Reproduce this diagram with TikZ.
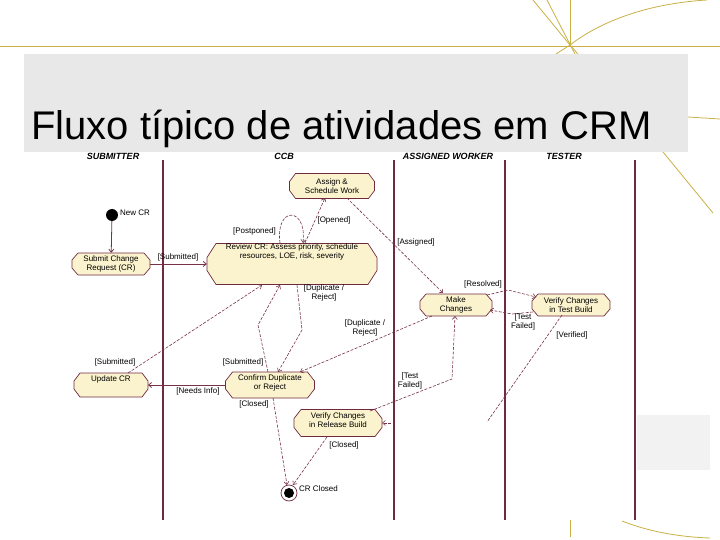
\documentclass[tikz,border=0pt]{standalone}
\usepackage{fontspec}
\setmainfont{Liberation Sans}
\usetikzlibrary{arrows.meta,calc}
\definecolor{gold}{RGB}{200,176,70}
\definecolor{lanec}{RGB}{112,42,64}
\definecolor{edgec}{RGB}{120,50,70}
\definecolor{actfill}{RGB}{251,243,205}
\definecolor{titlebg}{RGB}{232,232,232}
\definecolor{ghost}{RGB}{242,242,242}
% octagonal activity outline: cx, cy, width, height, chamfer x, chamfer y
\newcommand\octbox[6]{%
 \filldraw[octst] ({#1-#3/2+#5},{#2-#4/2}) -- ({#1+#3/2-#5},{#2-#4/2}) -- ({#1+#3/2},{#2-#4/2+#6})
  -- ({#1+#3/2},{#2+#4/2-#6}) -- ({#1+#3/2-#5},{#2+#4/2}) -- ({#1-#3/2+#5},{#2+#4/2})
  -- ({#1-#3/2},{#2+#4/2-#6}) -- ({#1-#3/2},{#2-#4/2+#6}) -- cycle;}
\begin{document}
\begin{tikzpicture}[x=1pt,y=-1pt,
 goldline/.style={draw=gold,line width=0.8pt},
 laneline/.style={draw=lanec,line width=2pt},
 octst/.style={draw=lanec, line width=0.7pt, fill=actfill},
 act/.style={rectangle, draw=none, font=\fontsize{8}{9}\selectfont, align=center, inner sep=0pt},
 lbl/.style={font=\fontsize{8}{9}\selectfont, align=center, inner sep=0pt},
 hdr/.style={font=\fontsize{9}{10}\selectfont\bfseries\itshape, inner sep=0pt},
 flow/.style={draw=edgec, line width=0.6pt, dash pattern=on 3pt off 1.5pt, -{Straight Barb[length=3pt,width=5pt]}},
 sflow/.style={draw=edgec, line width=0.8pt, -{Straight Barb[length=3pt,width=5pt]}},
]
\useasboundingbox (0,0) rectangle (720,540);
% decorative template lines
\draw[goldline] (0,46) -- (720,46);
\draw[goldline] (570,0) -- (570,46);
\draw[goldline] (570,45) .. controls (605,18) and (655,3) .. (707,0);
\draw[goldline] (533,0) -- (570,45) -- (663,152) -- (713,213);
\draw[goldline] (547,0) -- (575,54);
\draw[goldline] (570,45) -- (556,54);
\draw[goldline] (688,117) -- (720,119);
\draw[goldline] (570,520) -- (570,537);
\draw[goldline] (622,521) .. controls (650,532) and (680,537) .. (710,538);
% title box
\fill[titlebg] (24,54) rectangle (688,152);
\node[anchor=base west, font=\fontsize{40}{48}\selectfont, inner sep=0pt] (title) at (31,140) {Fluxo típico de atividades em CRM};
\fill[ghost] (637,415) rectangle (710,470);
% lane headers
\node[hdr] (hsub) at (113,156) {SUBMITTER};
\node[hdr] (hccb) at (284,156) {CCB};
\node[hdr] (hwork) at (448,156) {ASSIGNED WORKER};
\node[hdr] (htest) at (564,156) {TESTER};
% lanes
\draw[laneline] (163,160) -- (163,520);
\draw[laneline] (394,160) -- (394,520);
\draw[laneline] (505,160) -- (505,520);
\draw[laneline] (635,160) -- (635,520);
% activity outlines
\octbox{111}{264}{78}{22}{6}{7}
\octbox{292}{264}{170}{41}{9}{14}
\octbox{332}{186}{85}{25}{6}{8}
\octbox{456}{305}{72}{22}{6}{7}
\octbox{571}{305}{78}{22}{6}{7}
\octbox{111}{385}{74}{24}{6}{8}
\octbox{270}{385}{89}{26}{7}{9}
\octbox{338}{423}{88}{27}{7}{9}
% nodes
\node[circle, fill=black, minimum size=12pt, inner sep=0pt] (start) at (112,215) {};
\node[lbl, anchor=west] (lnew) at (120,213) {New CR};
\node[act, minimum width=78pt, minimum height=22pt] (submit) at (111,264) {Submit Change\\Request (CR)};
\node[act, minimum width=170pt, minimum height=41pt] (review) at (292,264) {};
\node[lbl, anchor=north] (reviewtxt) at (292,244) {Review CR: Assess priority, schedule\\resources, LOE, risk, severity};
\node[act, minimum width=85pt, minimum height=25pt] (assign) at (332,186) {Assign \&\\Schedule Work};
\node[act, minimum width=72pt, minimum height=22pt] (make) at (456,305) {Make\\Changes};
\node[act, minimum width=78pt, minimum height=22pt] (vtest) at (571,305) {Verify Changes\\in Test Build};
\node[act, minimum width=74pt, minimum height=24pt] (update) at (111,385) {};
\node[lbl] (updatetxt) at (111,379) {Update CR};
\node[act, minimum width=89pt, minimum height=26pt] (confirm) at (270,383) {Confirm Duplicate\\or Reject};
\node[act, minimum width=88pt, minimum height=27pt] (vrel) at (338,420) {Verify Changes\\in Release Build};
\node[circle, draw=lanec, fill=white, line width=0.7pt, minimum size=16pt, inner sep=0pt] (end) at (289,493) {};
\node[circle, fill=black, minimum size=10pt, inner sep=0pt] (endin) at (289,493) {};
\node[lbl, anchor=west] (lend) at (299,489) {CR Closed};
% bend coordinates
\coordinate (g1) at (512,314);
\coordinate (fv) at (508,290);
\coordinate (hv) at (487,422);
\coordinate (hs) at (391,423);
\coordinate (j1) at (302,330);
\coordinate (k1) at (258,325);
\coordinate (n1) at (452,379);
\coordinate (vrE) at (382,423);
\coordinate (confW) at (226,385);
\coordinate (updE) at (148,385);
% connectors
\draw[sflow] (start) -- (submit);
\draw[sflow] (submit) -- (review);
\draw[flow] ($(review)+(-12,-21)$) .. controls ($(review)+(-17,-58)$) and ($(review)+(15,-58)$) .. ($(review)+(11,-21)$);
\draw[flow] ($(review)+(13,-21)$) -- ($(assign)+(-7,12)$);
\draw[flow] ($(assign)+(15,12)$) -- ($(make)+(-13,-12)$);
\draw[flow] ($(make)+(31,-10)$) -- (fv) -- ($(vtest)+(-35,-8)$);
\draw[flow] ($(vtest)+(-38,7)$) -- (g1) -- ($(make)+(34,5)$);
\draw[flow, -] ($(vtest)+(-9,10)$) -- (hv);
\draw[flow] (hs) -- (vrE);
\draw[flow] ($(make)+(-24,11)$) -- ($(confirm)+(30,-11)$);
\draw[flow] ($(review)+(5,21)$) -- (j1) -- ($(confirm)+(8,-11)$);
\draw[flow] ($(confirm)+(-2,-11)$) -- (k1) -- ($(review)+(-12,21)$);
\draw[flow] ($(update)+(17,-12)$) -- ($(review)+(-30,21)$);
\draw[sflow] (confW) -- (updE);
\draw[flow] ($(vrel)+(32,-9)$) -- (n1) -- ($(make)+(-1,11)$);
\draw[flow] ($(confirm)+(3,15)$) -- ($(end)+(-2,-8)$);
\draw[flow] ($(vrel)+(-11,17)$) -- ($(end)+(4,-8)$);
% labels
\node[lbl] (lsub1) at (178,257) {[Submitted]};
\node[lbl, anchor=east] (lpost) at (276,231) {[Postponed]};
\node[lbl] (lopen) at (334,220) {[Opened]};
\node[lbl] (lassign) at (416,242) {[Assigned]};
\node[lbl] (lres) at (483,284) {[Resolved]};
\node[lbl] (ltf1) at (523,322) {[Test\\Failed]};
\node[lbl] (lver) at (572,335) {[Verified]};
\node[lbl] (ldup1) at (324,293) {[Duplicate /\\Reject]};
\node[lbl] (ldup2) at (365,328) {[Duplicate /\\Reject]};
\node[lbl] (lsub2) at (243,362) {[Submitted]};
\node[lbl] (lsub3) at (115,362) {[Submitted]};
\node[lbl] (lneed) at (198,391) {[Needs Info]};
\node[lbl] (ltf2) at (410,381) {[Test\\Failed]};
\node[lbl] (lcl1) at (254,404) {[Closed]};
\node[lbl] (lcl2) at (344,445) {[Closed]};
\end{tikzpicture}
\end{document}
